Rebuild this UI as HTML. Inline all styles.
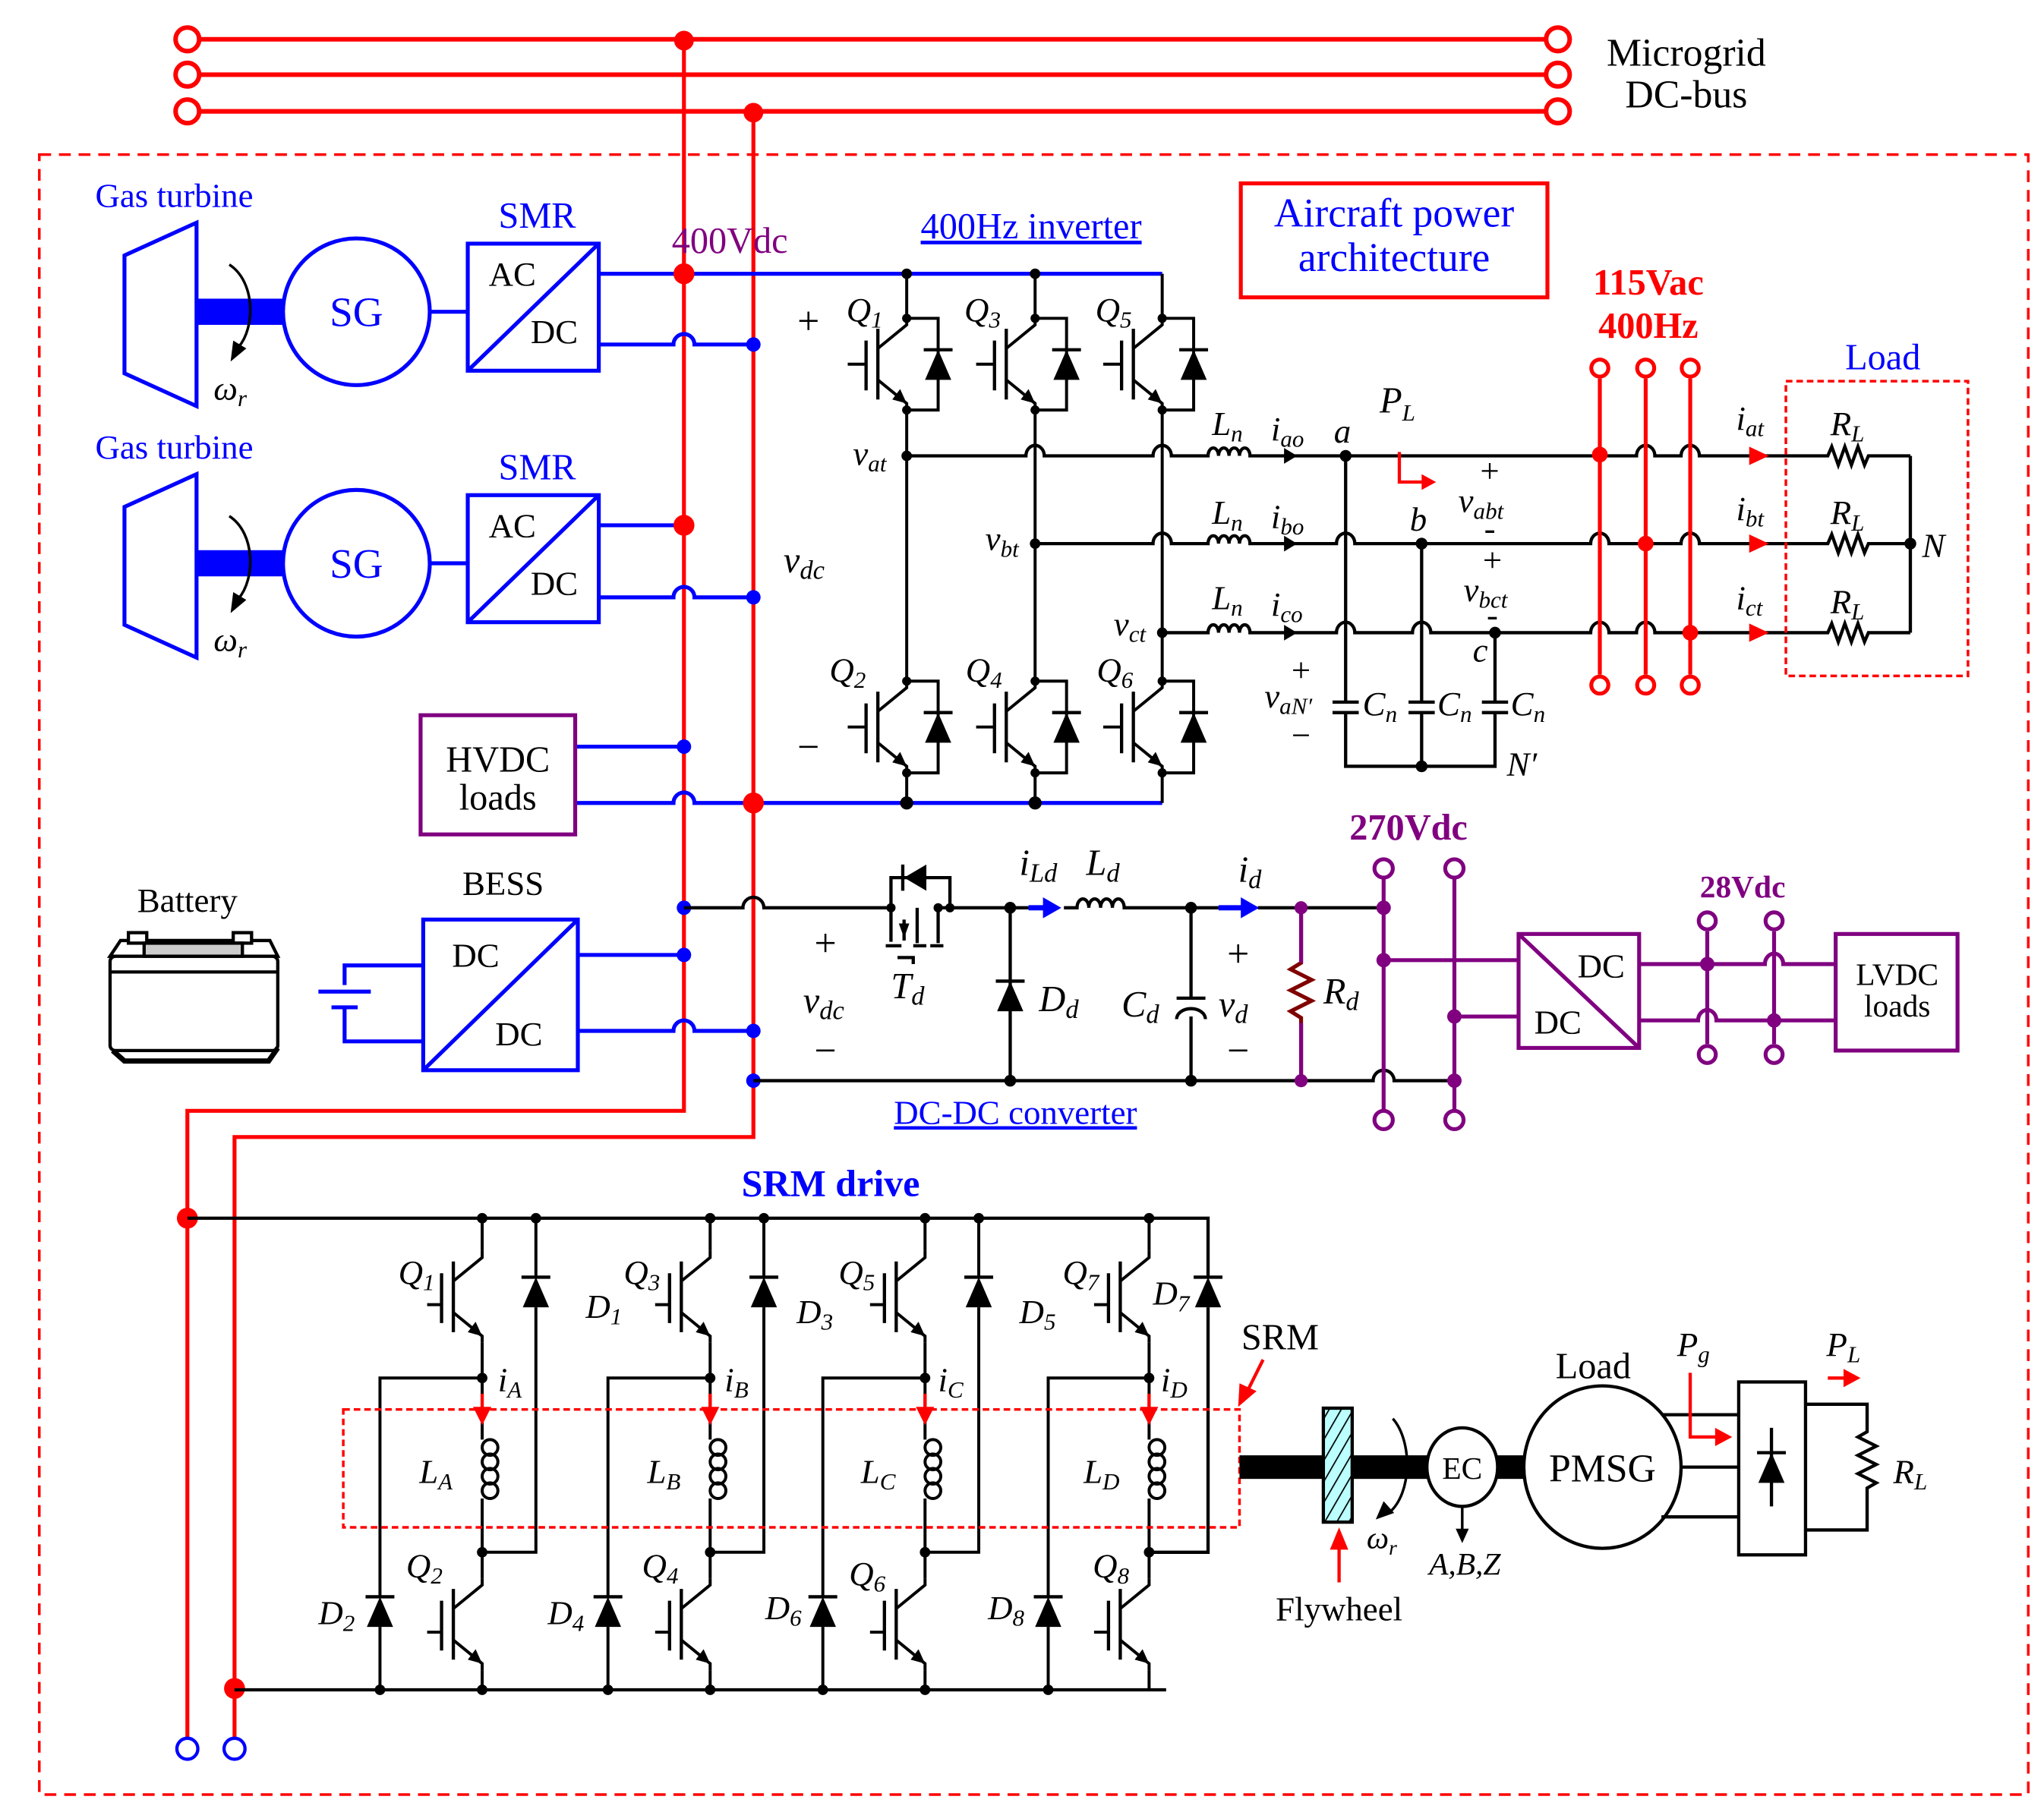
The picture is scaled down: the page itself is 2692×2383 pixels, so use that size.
<!DOCTYPE html>
<html><head><meta charset="utf-8"><style>
html,body{margin:0;padding:0;background:#fff}
svg{display:block}
text{font-family:"Liberation Serif",serif}
.i{font-style:italic}
</style></head><body>
<svg width="2692" height="2383" viewBox="0 0 1560 1381" preserveAspectRatio="none" xmlns="http://www.w3.org/2000/svg">
<defs>
<g id="ig" fill="none" stroke="#000" stroke-width="2.3">
 <path d="M0,-35 V-30 L-22,-12"/>
 <path d="M-22,-27 V27" stroke-width="2.5"/>
 <path d="M-22,12 L0,30 V35"/>
 <path d="M-31,-18 V20" stroke-width="2.5"/>
 <polygon points="0,30 -11,27 -5,19" fill="#000" stroke="none"/>
</g>
<g id="gi" fill="none" stroke="#000" stroke-width="2.3"><path d="M-31,0 H-45"/></g>
<g id="gs" fill="none" stroke="#000" stroke-width="2.3"><path d="M-31,6 H-42"/></g>
<g id="du"><polygon points="-10,12 10,12 0,-11" fill="#000"/><path d="M-11,-11 H11" stroke="#000" stroke-width="2.5"/></g>
<g id="cell">
 <use href="#ig"/><use href="#gi"/>
 <path d="M0,-35 H24 V35 H0" fill="none" stroke="#000" stroke-width="2.3"/>
 <use href="#du" x="24" y="0"/>
 <circle cx="0" cy="-35" r="3.5"/><circle cx="0" cy="35" r="3.5"/>
</g>
<g id="coil" fill="none" stroke="#000" stroke-width="2.3">
 <circle cx="6" cy="1105" r="6"/><circle cx="6" cy="1116" r="6"/><circle cx="6" cy="1127" r="6"/><circle cx="6" cy="1138" r="6"/>
</g>
</defs>

<!-- microgrid bus -->
<g stroke="#f00" stroke-width="3.5" fill="none">
 <path d="M152,30 H1180 M152,57 H1180 M152,85 H1180"/>
 <circle cx="143" cy="30" r="9" fill="#fff"/><circle cx="143" cy="57" r="9" fill="#fff"/><circle cx="143" cy="85" r="9" fill="#fff"/>
 <circle cx="1189" cy="30" r="9" fill="#fff"/><circle cx="1189" cy="57" r="9" fill="#fff"/><circle cx="1189" cy="85" r="9" fill="#fff"/>
</g>
<text x="1287" y="50" font-size="30" text-anchor="middle">Microgrid</text>
<text x="1287" y="82" font-size="30" text-anchor="middle">DC-bus</text>

<rect x="30" y="118" width="1518" height="1252" fill="none" stroke="#f00" stroke-width="2" stroke-dasharray="9,6"/>

<g stroke="#f00" stroke-width="3" fill="none">
 <path d="M522,31 V848 H143 V1326"/>
 <path d="M575,86 V868 H179 V1326"/>
</g>
<g fill="#f00"><circle cx="522" cy="31" r="7.5"/><circle cx="575" cy="86" r="7.5"/><circle cx="143" cy="930" r="8"/><circle cx="179" cy="1289" r="8"/></g>
<g fill="#fff" stroke="#00f" stroke-width="2.5"><circle cx="143" cy="1335" r="8"/><circle cx="179" cy="1335" r="8"/></g>

<g id="gt1">
<text x="133" y="158" font-size="26" fill="#00f" text-anchor="middle">Gas turbine</text>
<polygon points="95,195 150,170 150,310 95,285" fill="none" stroke="#00f" stroke-width="3"/>
<rect x="150" y="228" width="66" height="20" fill="#00f"/>
<path d="M175,202 C195,215 195,250 182,265" fill="none" stroke="#000" stroke-width="2"/>
<polygon points="176,276 178,260 188,266" fill="#000"/>
<text x="163" y="305" font-size="26" class="i">ω<tspan font-size="18" dy="5">r</tspan></text>
<circle cx="272" cy="238" r="56" fill="none" stroke="#00f" stroke-width="3"/>
<text x="272" y="249" font-size="32" fill="#00f" text-anchor="middle">SG</text>
<path d="M328,238 H357" stroke="#00f" stroke-width="3"/>
<rect x="357" y="186" width="100" height="97" fill="none" stroke="#00f" stroke-width="3"/>
<path d="M357,283 L457,186" stroke="#00f" stroke-width="3"/>
<text x="373" y="218" font-size="26">AC</text><text x="405" y="262" font-size="26">DC</text>
<text x="410" y="174" font-size="28" fill="#00f" text-anchor="middle">SMR</text>
</g>
<use href="#gt1" y="192"/>
<text x="557" y="193" font-size="28" fill="#800080" text-anchor="middle">400Vdc</text>

<g stroke="#00f" stroke-width="3" fill="none">
 <path d="M457,209 H887"/>
 <path d="M457,263 H514 a8,8 0 0 1 16,0 H575"/>
 <path d="M457,401 H522"/>
 <path d="M457,456 H514 a8,8 0 0 1 16,0 H575"/>
 <path d="M439,570 H522"/>
 <path d="M439,613 H514 a8,8 0 0 1 16,0 H887"/>
 <path d="M441,729 H522"/>
 <path d="M441,787 H514 a8,8 0 0 1 16,0 H575"/>
</g>
<g fill="#f00"><circle cx="522" cy="209" r="8"/><circle cx="522" cy="401" r="8"/><circle cx="575" cy="613" r="8"/></g>
<g fill="#00f"><circle cx="575" cy="263" r="5.5"/><circle cx="575" cy="456" r="5.5"/><circle cx="522" cy="570" r="5.5"/><circle cx="522" cy="693" r="5.5"/><circle cx="522" cy="729" r="5.5"/><circle cx="575" cy="787" r="5.5"/><circle cx="575" cy="825" r="5.5"/></g>

<rect x="321" y="546" width="118" height="91" fill="none" stroke="#800080" stroke-width="3"/>
<text x="380" y="589" font-size="28" text-anchor="middle">HVDC</text>
<text x="380" y="618" font-size="28" text-anchor="middle">loads</text>

<text x="143" y="696" font-size="26" text-anchor="middle">Battery</text>
<g stroke="#000" stroke-width="2.5" fill="#fff">
 <path d="M84,730 L92,718 H206 L212,730 Z"/>
 <rect x="84" y="730" width="128" height="72" rx="4"/>
 <path d="M86,802 L95,810 H205 L212,800" fill="none" stroke-width="4"/>
 <rect x="98" y="712" width="14" height="8"/><rect x="178" y="712" width="14" height="8"/>
 <rect x="110" y="720" width="75" height="10" fill="#ccc"/>
 <path d="M84,742 H212" fill="none"/>
</g>
<text x="384" y="683" font-size="26" text-anchor="middle">BESS</text>
<rect x="323" y="702" width="118" height="115" fill="none" stroke="#00f" stroke-width="3"/>
<path d="M323,817 L441,702" stroke="#00f" stroke-width="3"/>
<text x="345" y="738" font-size="26">DC</text><text x="378" y="798" font-size="26">DC</text>
<g stroke="#00f" stroke-width="3" fill="none">
 <path d="M323,737 H263 V752 M243,757 H283 M253,769 H273 M263,769 V795 H323"/>
</g>

<!-- Inverter -->
<text x="787" y="182" font-size="28" fill="#00f" text-anchor="middle" text-decoration="underline">400Hz inverter</text>
<g stroke="#000" stroke-width="2.3" fill="none">
 <path d="M692,209 V243 M692,313 V520 M692,590 V613"/>
 <path d="M790,209 V243 M790,313 V520 M790,590 V613"/>
 <path d="M887,209 V243 M887,313 V520 M887,590 V613"/>
</g>
<use href="#cell" x="692" y="278"/><use href="#cell" x="790" y="278"/><use href="#cell" x="887" y="278"/>
<use href="#cell" x="692" y="555"/><use href="#cell" x="790" y="555"/><use href="#cell" x="887" y="555"/>
<g fill="#000"><circle cx="692" cy="209" r="4"/><circle cx="790" cy="209" r="4"/><circle cx="692" cy="613" r="5"/><circle cx="790" cy="613" r="5"/></g>
<text x="617" y="255" font-size="30" text-anchor="middle">+</text>
<text x="617" y="580" font-size="30" text-anchor="middle">−</text>
<text x="598" y="437" font-size="28" class="i">v<tspan font-size="20" dy="5">dc</tspan></text>
<g font-size="26" class="i">
<text x="646" y="245">Q<tspan font-size="18" dy="5">1</tspan></text>
<text x="736" y="245">Q<tspan font-size="18" dy="5">3</tspan></text>
<text x="836" y="245">Q<tspan font-size="18" dy="5">5</tspan></text>
<text x="633" y="520">Q<tspan font-size="18" dy="5">2</tspan></text>
<text x="737" y="520">Q<tspan font-size="18" dy="5">4</tspan></text>
<text x="837" y="520">Q<tspan font-size="18" dy="5">6</tspan></text>
<text x="651" y="355">v<tspan font-size="18" dy="5">at</tspan></text>
<text x="752" y="420">v<tspan font-size="18" dy="5">bt</tspan></text>
<text x="850" y="485">v<tspan font-size="18" dy="5">ct</tspan></text>
</g>
<g stroke="#000" stroke-width="2.5" fill="none">
 <path d="M692,348 H783 a7,8 0 0 1 14,0 H880 a7,8 0 0 1 14,0 H922 a4,6 0 0 1 8,0 a4,6 0 0 1 8,0 a4,6 0 0 1 8,0 a4,6 0 0 1 8,0 H1249 a7,8 0 0 1 14,0 H1283 a7,8 0 0 1 14,0 H1395 l3,-7 l5,14 l5,-14 l5,14 l5,-14 l5,14 l3,-7 H1458"/>
 <path d="M790,415 H880 a7,8 0 0 1 14,0 H922 a4,6 0 0 1 8,0 a4,6 0 0 1 8,0 a4,6 0 0 1 8,0 a4,6 0 0 1 8,0 H1020 a7,8 0 0 1 14,0 H1214 a7,8 0 0 1 14,0 H1283 a7,8 0 0 1 14,0 H1395 l3,-7 l5,14 l5,-14 l5,14 l5,-14 l5,14 l3,-7 H1458"/>
 <path d="M887,483 H922 a4,6 0 0 1 8,0 a4,6 0 0 1 8,0 a4,6 0 0 1 8,0 a4,6 0 0 1 8,0 H1020 a7,8 0 0 1 14,0 H1078 a7,8 0 0 1 14,0 H1214 a7,8 0 0 1 14,0 H1249 a7,8 0 0 1 14,0 H1395 l3,-7 l5,14 l5,-14 l5,14 l5,-14 l5,14 l3,-7 H1458"/>
 <path d="M1458,348 V483"/>
 <path d="M1027,348 V536 M1027,544 V585 H1141 V544 M1141,536 V483 M1085,415 V536 M1085,544 V585"/>
 <path d="M1017,536 H1037 M1017,544 H1037 M1075,536 H1095 M1075,544 H1095 M1131,536 H1151 M1131,544 H1151"/>
</g>
<g fill="#000"><circle cx="692" cy="348" r="4"/><circle cx="790" cy="415" r="4"/><circle cx="887" cy="483" r="4"/><circle cx="1027" cy="348" r="4.5"/><circle cx="1085" cy="415" r="4.5"/><circle cx="1141" cy="483" r="4.5"/><circle cx="1085" cy="585" r="4.5"/><circle cx="1458" cy="415" r="4.5"/></g>
<g fill="#000"><polygon points="980,342 990,348 980,354"/><polygon points="980,409 990,415 980,421"/><polygon points="980,477 990,483 980,489"/></g>
<g font-size="26" class="i">
<text x="925" y="332">L<tspan font-size="18" dy="5">n</tspan></text><text x="970" y="336">i<tspan font-size="18" dy="5">ao</tspan></text>
<text x="925" y="400">L<tspan font-size="18" dy="5">n</tspan></text><text x="970" y="403">i<tspan font-size="18" dy="5">bo</tspan></text>
<text x="925" y="465">L<tspan font-size="18" dy="5">n</tspan></text><text x="970" y="470">i<tspan font-size="18" dy="5">co</tspan></text>
<text x="1018" y="338">a</text><text x="1076" y="405">b</text><text x="1124" y="505">c</text>
<text x="1053" y="315" font-size="28">P<tspan font-size="18" dy="6">L</tspan></text>
<text x="1113" y="391">v<tspan font-size="18" dy="5">abt</tspan></text>
<text x="1117" y="459">v<tspan font-size="18" dy="5">bct</tspan></text>
<text x="965" y="540">v<tspan font-size="18" dy="5">aN′</tspan></text>
<text x="1040" y="546">C<tspan font-size="18" dy="5">n</tspan></text><text x="1097" y="546">C<tspan font-size="18" dy="5">n</tspan></text><text x="1153" y="546">C<tspan font-size="18" dy="5">n</tspan></text>
<text x="1150" y="592">N′</text>
<text x="1325" y="328">i<tspan font-size="18" dy="5">at</tspan></text><text x="1325" y="397">i<tspan font-size="18" dy="5">bt</tspan></text><text x="1325" y="465">i<tspan font-size="18" dy="5">ct</tspan></text>
<text x="1397" y="332">R<tspan font-size="18" dy="5">L</tspan></text><text x="1397" y="400">R<tspan font-size="18" dy="5">L</tspan></text><text x="1397" y="468">R<tspan font-size="18" dy="5">L</tspan></text>
<text x="1467" y="425">N</text>
</g>
<g font-size="26" text-anchor="middle"><text x="1137" y="368">+</text><text x="1137" y="412">-</text><text x="1139" y="436">+</text><text x="1139" y="478">-</text><text x="993" y="520">+</text><text x="993" y="570">−</text></g>
<path d="M1068,345 V368 H1088" fill="none" stroke="#f00" stroke-width="2.5"/><polygon points="1085,362 1096,368 1085,374" fill="#f00"/>
<g fill="#f00"><polygon points="1335,341 1350,348 1335,355"/><polygon points="1335,408 1350,415 1335,422"/><polygon points="1335,476 1350,483 1335,490"/></g>
<g stroke="#f00" stroke-width="3" fill="#fff">
 <path d="M1221,289 V515 M1256,289 V515 M1290,289 V515"/>
 <circle cx="1221" cy="281" r="6.5"/><circle cx="1256" cy="281" r="6.5"/><circle cx="1290" cy="281" r="6.5"/>
 <circle cx="1221" cy="523" r="6.5"/><circle cx="1256" cy="523" r="6.5"/><circle cx="1290" cy="523" r="6.5"/>
</g>
<g fill="#f00"><circle cx="1221" cy="347" r="6"/><circle cx="1256" cy="415" r="6"/><circle cx="1290" cy="483" r="6"/></g>
<text x="1258" y="225" font-size="28" font-weight="bold" fill="#f00" text-anchor="middle">115Vac</text>
<text x="1258" y="258" font-size="28" font-weight="bold" fill="#f00" text-anchor="middle">400Hz</text>
<rect x="1363" y="291" width="139" height="225" fill="none" stroke="#f00" stroke-width="2" stroke-dasharray="5,3"/>
<text x="1437" y="282" font-size="28" fill="#00f" text-anchor="middle">Load</text>
<rect x="947" y="140" width="234" height="87" fill="none" stroke="#f00" stroke-width="3"/>
<text x="1064" y="173" font-size="31" fill="#00f" text-anchor="middle">Aircraft power</text>
<text x="1064" y="207" font-size="31" fill="#00f" text-anchor="middle">architecture</text>

<!-- DC-DC converter -->
<g stroke="#000" stroke-width="2.5" fill="none">
 <path d="M522,693 H567 a8,8 0 0 1 16,0 H680 V719 M680,693 V670 H725 V693 M700,693 V720 M716,693 V720 M690,702 V718 M676,722 H688 M697,722 H707 M710,722 H720 M685,731 H697 V736"/>
 <path d="M716,693 H800 M812,693 H822 a4,6 0 0 1 9,0 a4,6 0 0 1 9,0 a4,6 0 0 1 9,0 a4,6 0 0 1 9,0 H945 M960,693 H1056"/>
 <path d="M771,693 V825 M909,693 V762 M909,776 V825 M898,762 H920 M898,778 a11,8 0 0 1 22,0"/>
 <path d="M575,825 H1048 a8,8 0 0 1 16,0 H1110"/>
</g>
<polygon points="707,660 707,680 690,670" fill="#000"/><path d="M689,660 V680" stroke="#000" stroke-width="2.5"/>
<polygon points="686,705 694,705 690,716" fill="#000"/>
<use href="#du" x="771" y="760"/>
<g fill="#00f"><rect x="785" y="691" width="15" height="4"/><polygon points="796,685 810,693 796,701"/><rect x="930" y="691" width="20" height="4"/><polygon points="947,685 961,693 947,701"/></g>
<path d="M993,693 V735 l-8,5 l16,8 l-16,8 l16,8 l-16,8 l8,5 V825" fill="none" stroke="#800000" stroke-width="3"/>
<path d="M993,693 V735 M993,781 V825" fill="none" stroke="#800080" stroke-width="3"/>
<g fill="#000"><circle cx="680" cy="693" r="3.5"/><circle cx="716" cy="693" r="3.5"/><circle cx="725" cy="693" r="3.5"/><circle cx="771" cy="693" r="4.5"/><circle cx="909" cy="693" r="4.5"/><circle cx="771" cy="825" r="4.5"/><circle cx="909" cy="825" r="4.5"/></g>
<g fill="#800080"><circle cx="993" cy="693" r="5"/><circle cx="993" cy="825" r="5"/></g>
<g font-size="28" class="i">
<text x="613" y="773">v<tspan font-size="20" dy="5">dc</tspan></text>
<text x="680" y="762">T<tspan font-size="20" dy="5">d</tspan></text>
<text x="793" y="772">D<tspan font-size="20" dy="5">d</tspan></text>
<text x="856" y="776">C<tspan font-size="20" dy="5">d</tspan></text>
<text x="930" y="776">v<tspan font-size="20" dy="5">d</tspan></text>
<text x="1010" y="766">R<tspan font-size="20" dy="5">d</tspan></text>
<text x="778" y="668">i<tspan font-size="20" dy="5">Ld</tspan></text>
<text x="829" y="668">L<tspan font-size="20" dy="5">d</tspan></text>
<text x="945" y="673">i<tspan font-size="20" dy="5">d</tspan></text>
</g>
<g font-size="30" text-anchor="middle"><text x="630" y="730">+</text><text x="630" y="812">−</text><text x="945" y="738">+</text><text x="945" y="812">−</text></g>
<text x="775" y="858" font-size="26" fill="#00f" text-anchor="middle" text-decoration="underline">DC-DC converter</text>

<text x="1075" y="641" font-size="28" font-weight="bold" fill="#800080" text-anchor="middle">270Vdc</text>
<text x="1330" y="685" font-size="24" font-weight="bold" fill="#800080" text-anchor="middle">28Vdc</text>
<g stroke="#800080" stroke-width="3" fill="none">
 <path d="M1056,671 V847 M1110,671 V847"/>
 <path d="M1056,733 H1159 M1110,776 H1159"/>
 <path d="M1251,736 H1347 a7,8 0 0 1 14,0 H1401 M1251,779 H1296 a7,8 0 0 1 14,0 H1401"/>
 <path d="M1303,711 V797 M1354,711 V797"/>
 <rect x="1159" y="713" width="92" height="87"/><path d="M1159,713 L1251,800"/>
 <rect x="1401" y="713" width="93" height="89"/>
</g>
<g fill="#fff" stroke="#800080" stroke-width="3">
 <circle cx="1056" cy="663" r="7"/><circle cx="1110" cy="663" r="7"/><circle cx="1056" cy="855" r="7"/><circle cx="1110" cy="855" r="7"/>
 <circle cx="1303" cy="703" r="6.5"/><circle cx="1354" cy="703" r="6.5"/><circle cx="1303" cy="805" r="6.5"/><circle cx="1354" cy="805" r="6.5"/>
</g>
<g fill="#800080"><circle cx="1056" cy="693" r="5.5"/><circle cx="1056" cy="733" r="5.5"/><circle cx="1110" cy="776" r="5.5"/><circle cx="1110" cy="825" r="5.5"/><circle cx="1303" cy="736" r="5.5"/><circle cx="1354" cy="779" r="5.5"/></g>
<text x="1222" y="746" font-size="26" text-anchor="middle">DC</text>
<text x="1189" y="789" font-size="26" text-anchor="middle">DC</text>
<text x="1448" y="752" font-size="24" text-anchor="middle">LVDC</text>
<text x="1448" y="776" font-size="24" text-anchor="middle">loads</text>

<!-- SRM drive -->
<text x="634" y="913" font-size="29" font-weight="bold" fill="#00f" text-anchor="middle">SRM drive</text>
<g stroke="#000" stroke-width="2.5" fill="none">
 <path d="M143,930 H922 V974 M922,998 V1185 H877"/>
 <path d="M179,1290 H890"/>
</g>
<g id="ph">
 <g stroke="#000" stroke-width="2.3" fill="none">
  <path d="M368,930 V955 M368,1025 V1099 M368,1144 V1205 M368,1275 V1290"/>
  <path d="M409,930 V974 M409,998 V1185 H368"/>
  <path d="M368,1052 H290 V1218 M290,1242 V1290"/>
 </g>
 <use href="#coil" x="368"/>
 <use href="#ig" x="368" y="990"/><use href="#gs" x="368" y="990"/>
 <use href="#ig" x="368" y="1240"/><use href="#gs" x="368" y="1240"/>
 <use href="#du" x="409" y="986"/>
 <use href="#du" x="290" y="1230"/>
 <g fill="#000"><circle cx="368" cy="930" r="4"/><circle cx="409" cy="930" r="4"/><circle cx="368" cy="1052" r="4"/><circle cx="368" cy="1185" r="4"/><circle cx="290" cy="1290" r="4"/><circle cx="368" cy="1290" r="4"/></g>
 <path d="M368,1064 V1078" stroke="#f00" stroke-width="2.5"/><polygon points="361,1074 375,1074 368,1088" fill="#f00"/>
</g>
<use href="#ph" x="174"/>
<use href="#ph" x="338"/>
<g transform="translate(509,0)">
 <g stroke="#000" stroke-width="2.3" fill="none">
  <path d="M368,930 V955 M368,1025 V1099 M368,1144 V1205 M368,1275 V1290"/>
  <path d="M368,1052 H291 V1218 M291,1242 V1290"/>
 </g>
 <use href="#coil" x="368"/>
 <use href="#ig" x="368" y="990"/><use href="#gs" x="368" y="990"/>
 <use href="#ig" x="368" y="1240"/><use href="#gs" x="368" y="1240"/>
 <use href="#du" x="291" y="1230"/>
 <g fill="#000"><circle cx="368" cy="930" r="4"/><circle cx="368" cy="1052" r="4"/><circle cx="368" cy="1185" r="4"/><circle cx="291" cy="1290" r="4"/></g>
 <path d="M368,1064 V1078" stroke="#f00" stroke-width="2.5"/><polygon points="361,1074 375,1074 368,1088" fill="#f00"/>
</g>
<use href="#du" x="922" y="986"/>
<rect x="262" y="1076" width="684" height="90" fill="none" stroke="#f00" stroke-width="2" stroke-dasharray="5,3"/>
<g font-size="26" class="i">
<text x="304" y="980">Q<tspan font-size="18" dy="5">1</tspan></text><text x="476" y="980">Q<tspan font-size="18" dy="5">3</tspan></text><text x="640" y="980">Q<tspan font-size="18" dy="5">5</tspan></text><text x="811" y="980">Q<tspan font-size="18" dy="5">7</tspan></text>
<text x="447" y="1006">D<tspan font-size="18" dy="5">1</tspan></text><text x="608" y="1010">D<tspan font-size="18" dy="5">3</tspan></text><text x="778" y="1010">D<tspan font-size="18" dy="5">5</tspan></text><text x="880" y="996">D<tspan font-size="18" dy="5">7</tspan></text>
<text x="380" y="1062">i<tspan font-size="18" dy="5">A</tspan></text><text x="553" y="1062">i<tspan font-size="18" dy="5">B</tspan></text><text x="716" y="1062">i<tspan font-size="18" dy="5">C</tspan></text><text x="886" y="1062">i<tspan font-size="18" dy="5">D</tspan></text>
<text x="320" y="1132">L<tspan font-size="18" dy="5">A</tspan></text><text x="494" y="1132">L<tspan font-size="18" dy="5">B</tspan></text><text x="657" y="1132">L<tspan font-size="18" dy="5">C</tspan></text><text x="827" y="1132">L<tspan font-size="18" dy="5">D</tspan></text>
<text x="310" y="1204">Q<tspan font-size="18" dy="5">2</tspan></text><text x="490" y="1204">Q<tspan font-size="18" dy="5">4</tspan></text><text x="648" y="1210">Q<tspan font-size="18" dy="5">6</tspan></text><text x="834" y="1204">Q<tspan font-size="18" dy="5">8</tspan></text>
<text x="243" y="1240">D<tspan font-size="18" dy="5">2</tspan></text><text x="418" y="1240">D<tspan font-size="18" dy="5">4</tspan></text><text x="584" y="1236">D<tspan font-size="18" dy="5">6</tspan></text><text x="754" y="1236">D<tspan font-size="18" dy="5">8</tspan></text>
</g>
<text x="977" y="1030" font-size="28" text-anchor="middle">SRM</text>
<path d="M964,1038 L952,1062" stroke="#f00" stroke-width="2.5"/><polygon points="945,1074 946,1056 959,1062" fill="#f00"/>

<rect x="946" y="1111" width="220" height="18" fill="#000"/>
<defs><pattern id="hatch" width="8" height="8" patternUnits="userSpaceOnUse" patternTransform="rotate(30)"><rect width="8" height="8" fill="#bff"/><path d="M0,0 V8" stroke="#000" stroke-width="2"/></pattern></defs>
<rect x="1010" y="1075" width="22" height="87" fill="url(#hatch)" stroke="#000" stroke-width="2.5"/>
<path d="M1063,1083 C1078,1100 1078,1140 1060,1155" fill="none" stroke="#000" stroke-width="2"/>
<polygon points="1050,1160 1056,1146 1064,1155" fill="#000"/>
<text x="1043" y="1182" font-size="24" class="i">ω<tspan font-size="16" dy="5">r</tspan></text>
<path d="M1022,1208 V1180" stroke="#f00" stroke-width="2.5"/><polygon points="1015,1183 1029,1183 1022,1166" fill="#f00"/>
<text x="1022" y="1237" font-size="26" text-anchor="middle">Flywheel</text>
<ellipse cx="1116" cy="1120" rx="27" ry="30" fill="#fff" stroke="#000" stroke-width="2.5"/>
<text x="1116" y="1129" font-size="24" text-anchor="middle">EC</text>
<path d="M1116,1150 V1170" stroke="#000" stroke-width="2"/><polygon points="1111,1167 1121,1167 1116,1178" fill="#000"/>
<text x="1118" y="1202" font-size="24" class="i" text-anchor="middle">A,B,Z</text>
<ellipse cx="1223" cy="1120" rx="60" ry="62" fill="#fff" stroke="#000" stroke-width="2.5"/>
<text x="1223" y="1131" font-size="30" text-anchor="middle">PMSG</text>
<text x="1216" y="1052" font-size="28" text-anchor="middle">Load</text>
<g stroke="#000" stroke-width="2.5" fill="none">
 <path d="M1268,1080 H1327 M1282,1120 H1327 M1268,1158 H1327"/>
 <rect x="1327" y="1055" width="51" height="132"/>
 <path d="M1352,1090 V1150 M1378,1072 H1425 V1093 l-7,4 l14,7 l-14,7 l14,7 l-14,7 l14,7 l-7,4 V1168 H1378"/>
</g>
<use href="#du" x="1352" y="1120"/>
<path d="M1290,1048 V1097 H1312" fill="none" stroke="#f00" stroke-width="2.5"/><polygon points="1309,1090 1322,1097 1309,1104" fill="#f00"/>
<path d="M1395,1052 H1410" stroke="#f00" stroke-width="2.5"/><polygon points="1407,1045 1420,1052 1407,1059" fill="#f00"/>
<g font-size="26" class="i">
<text x="1280" y="1035">P<tspan font-size="18" dy="5">g</tspan></text>
<text x="1394" y="1035">P<tspan font-size="18" dy="5">L</tspan></text>
<text x="1445" y="1132">R<tspan font-size="18" dy="5">L</tspan></text>
</g>
</svg>
</body></html>
